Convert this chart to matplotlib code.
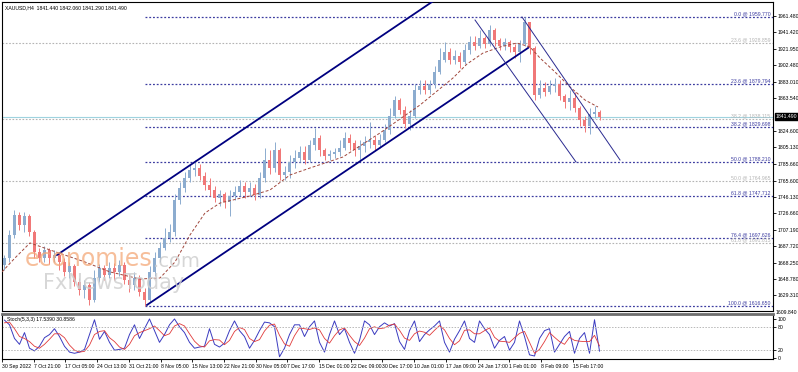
"""XAUUSD H4 chart with channels, fibonacci levels and stochastic"""

import matplotlib.pyplot as plt
from matplotlib.transforms import blended_transform_factory

# ---- price data (one candle per ~5 bars) ----
first_open = 1665.4
closes = [1673.7, 1701.0, 1724.7, 1712.8, 1723.5, 1704.5, 1680.8, 1673.7, 1683.2, 1673.7,
          1677.2, 1668.9, 1657.1, 1664.2, 1645.2, 1635.7, 1641.6, 1623.8, 1649.9, 1661.8,
          1653.5, 1661.8, 1657.1, 1665.4, 1647.6, 1641.6, 1649.9, 1633.3, 1623.8, 1657.1,
          1673.7, 1685.6, 1697.4, 1704.5, 1742.5, 1756.8, 1768.6, 1778.1, 1780.5, 1771.0,
          1760.3, 1754.4, 1744.9, 1749.6, 1740.1, 1747.3, 1752.0, 1759.1, 1752.0, 1756.8,
          1748.4, 1768.6, 1790.0, 1780.5, 1801.9, 1772.2, 1775.8, 1787.6, 1792.4, 1799.5,
          1790.0, 1807.8, 1816.1, 1801.9, 1794.8, 1797.1, 1799.5, 1804.3, 1816.1, 1810.2,
          1801.9, 1806.6, 1811.4, 1813.8, 1807.8, 1813.8, 1825.6, 1842.2, 1861.2, 1849.4,
          1832.7, 1842.2, 1873.1, 1877.9, 1873.1, 1880.2, 1894.5, 1908.7, 1918.2, 1908.7,
          1913.5, 1906.3, 1920.6, 1930.1, 1925.3, 1934.8, 1927.7, 1944.3, 1932.5, 1925.3,
          1930.1, 1924.2, 1918.2, 1927.7, 1953.8, 1923.0, 1867.2, 1875.5, 1870.7, 1877.9,
          1880.2, 1866.0, 1858.9, 1863.6, 1851.7, 1837.5, 1830.4, 1844.6, 1847.0, 1841.5]
highs = [1677.2, 1706.9, 1730.6, 1728.3, 1728.3, 1725.9, 1706.9, 1685.6, 1687.9, 1685.6,
         1683.2, 1680.8, 1673.7, 1668.9, 1666.6, 1649.9, 1647.6, 1645.2, 1659.4, 1666.6,
         1665.4, 1668.9, 1667.7, 1671.3, 1668.9, 1654.7, 1657.1, 1653.5, 1638.1, 1664.2,
         1680.8, 1692.7, 1709.3, 1714.0, 1749.6, 1763.9, 1775.8, 1785.3, 1790.0, 1785.3,
         1775.8, 1768.6, 1759.1, 1754.4, 1752.0, 1754.4, 1759.1, 1766.3, 1763.9, 1763.9,
         1761.5, 1775.8, 1804.3, 1801.9, 1811.4, 1804.3, 1782.9, 1796.0, 1801.9, 1806.6,
         1806.6, 1813.8, 1828.0, 1819.7, 1804.3, 1801.9, 1804.3, 1813.8, 1823.2, 1820.9,
         1813.8, 1813.8, 1818.5, 1835.1, 1818.5, 1820.9, 1832.7, 1851.7, 1866.0, 1863.6,
         1854.1, 1849.4, 1880.2, 1885.0, 1885.0, 1885.0, 1901.6, 1923.0, 1930.1, 1923.0,
         1920.6, 1918.2, 1927.7, 1937.2, 1937.2, 1944.3, 1937.2, 1950.3, 1946.7, 1934.8,
         1934.8, 1932.5, 1927.7, 1932.5, 1959.8, 1953.8, 1925.3, 1885.0, 1882.6, 1885.0,
         1887.4, 1885.0, 1868.4, 1873.1, 1870.7, 1854.1, 1842.2, 1851.7, 1854.1, 1849.4]
lows = [1659.4, 1668.9, 1697.4, 1706.9, 1704.5, 1699.8, 1673.7, 1668.9, 1668.9, 1666.6,
        1668.9, 1659.4, 1652.3, 1649.9, 1640.4, 1629.8, 1626.2, 1617.9, 1621.4, 1645.2,
        1647.6, 1649.9, 1647.6, 1652.3, 1642.8, 1633.3, 1635.7, 1628.6, 1616.7, 1621.4,
        1652.3, 1668.9, 1683.2, 1692.7, 1699.8, 1737.8, 1752.0, 1763.9, 1771.0, 1766.3,
        1754.4, 1747.3, 1740.1, 1735.4, 1733.0, 1723.5, 1742.5, 1747.3, 1744.9, 1747.3,
        1742.5, 1744.9, 1763.9, 1773.4, 1775.8, 1766.3, 1766.3, 1768.6, 1780.5, 1787.6,
        1785.3, 1787.6, 1801.9, 1794.8, 1790.0, 1790.0, 1792.4, 1794.8, 1801.9, 1801.9,
        1794.8, 1790.0, 1799.5, 1804.3, 1801.9, 1804.3, 1811.4, 1820.9, 1839.9, 1844.6,
        1828.0, 1825.6, 1839.9, 1868.4, 1868.4, 1868.4, 1875.5, 1892.1, 1906.3, 1904.0,
        1904.0, 1899.2, 1904.0, 1915.9, 1920.6, 1923.0, 1923.0, 1925.3, 1925.3, 1920.6,
        1920.6, 1918.2, 1911.1, 1906.3, 1925.3, 1915.9, 1861.2, 1863.6, 1866.0, 1868.4,
        1870.7, 1861.2, 1851.7, 1849.4, 1847.0, 1830.4, 1823.2, 1820.9, 1839.9, 1837.5]

# moving average (dashed brown)
ma_idx = [-0.5, 2.1, 5.1, 9.1, 16.1, 21.1, 27.1, 31.1, 34.1, 37.1, 40.1, 43.1, 49.1, 53.1,
          57.1, 61.1, 67.7, 75.1, 83.1, 89.7, 92.5, 95.7, 99.1, 102.5, 105.1, 107.1, 110.1,
          113.1, 116.1, 118.7]
ma_val = [1657.1, 1673.7, 1691.5, 1683.2, 1668.9, 1657.1, 1648.7, 1649.9, 1668.9, 1701.0,
          1727.1, 1738.9, 1747.3, 1754.4, 1772.2, 1780.5, 1793.6, 1822.1, 1855.3, 1887.4,
          1904.0, 1917.0, 1924.2, 1928.9, 1924.2, 1911.1, 1894.5, 1876.7, 1861.2, 1852.9]

# trend channels: (start idx, start price, end idx, end price)
up_channel = [(10.5, 1677.2, 87.1, 1984.1), (28.5, 1617.9, 104.7, 1923.0)]
down_channel = [(103.5, 1959.8, 123.1, 1790.0), (94.1, 1956.2, 114.3, 1787.6)]

# fibonacci levels
fib_start = 28.1
fib_pct = [0.0, 23.6, 38.2, 50.0, 61.8, 76.4, 100.0]
fib_price = [1959.770, 1879.794, 1829.698, 1788.210, 1747.712, 1697.626, 1616.650]
fib2_pct = [23.6, 38.2, 50.0, 61.8]
fib2_price = [1928.859, 1838.115, 1764.965, 1691.815]

last_price = 1841.490
price_ticks = [1961.480, 1941.420, 1921.950, 1902.480, 1883.010, 1863.540,
               1824.600, 1805.130, 1785.660, 1765.600, 1746.130, 1726.660, 1707.190,
               1687.720, 1668.250, 1648.780, 1629.310]

# stochastic (5,3,3)
stoch_main = [97, 85, 50, 35, 65, 25, 18, 30, 52, 60, 75, 55, 30, 15, 12, 15, 22, 60, 98, 48,
              68, 40, 20, 22, 25, 60, 85, 50, 75, 100, 70, 40, 60, 85, 100, 80, 65, 40, 25, 28,
              30, 75, 35, 28, 38, 70, 95, 70, 55, 25, 45, 70, 92, 90, 80, 3, 25, 60, 85, 85,
              55, 80, 95, 40, 15, 60, 95, 60, 75, 40, 12, 45, 95, 85, 60, 80, 90, 82, 88, 42,
              22, 70, 95, 42, 60, 72, 82, 95, 40, 15, 48, 70, 95, 50, 40, 95, 75, 60, 25, 45,
              55, 20, 40, 95, 55, 8, 5, 50, 70, 75, 15, 35, 55, 68, 12, 50, 65, 12, 98, 17.5]
stoch_signal = [90, 92, 75, 55, 50, 42, 30, 25, 35, 48, 62, 62, 52, 33, 20, 15, 17, 33, 60, 68,
                70, 52, 42, 28, 22, 35, 57, 65, 70, 75, 82, 70, 57, 62, 82, 88, 82, 62, 43, 31,
                28, 44, 47, 46, 34, 45, 68, 78, 73, 50, 42, 47, 69, 84, 87, 58, 36, 30, 57, 77,
                75, 73, 77, 72, 50, 38, 57, 72, 77, 58, 42, 32, 51, 75, 80, 75, 77, 84, 87, 71,
                51, 45, 62, 69, 66, 58, 71, 83, 72, 50, 34, 44, 71, 72, 62, 62, 70, 77, 53, 43,
                42, 40, 52, 63, 68, 40, 12, 22, 42, 65, 53, 42, 35, 53, 45, 43, 42, 42, 58, 30.86]

date_labels = ['30 Sep 2022', '7 Oct 21:00', '17 Oct 05:00', '24 Oct 13:00', '31 Oct 21:00',
               '8 Nov 05:00', '15 Nov 13:00', '22 Nov 21:00', '30 Nov 05:00', '7 Dec 17:00',
               '15 Dec 01:00', '22 Dec 09:00', '30 Dec 17:00', '10 Jan 01:00', '17 Jan 09:00',
               '24 Jan 17:00', '1 Feb 01:00', '8 Feb 09:00', '15 Feb 17:00']

plt.rcParams['font.family'] = ['Liberation Sans', 'DejaVu Sans']

UP = '#8caccf'
DOWN = '#f07878'
FIB_BLUE = '#3c3ca0'
FIB_GRAY = '#b4b4b4'
FS = 3.7

fig = plt.figure(figsize=(7.98, 3.72), dpi=100)
ax = fig.add_axes([0.0025, 0.164, 0.9662, 0.8306])
ax_s = fig.add_axes([0.0025, 0.035, 0.9662, 0.121])

XMAX = 153.7
ax.set_xlim(-0.5, XMAX)
ax.set_ylim(1610.7, 1977.6)

# candles
x = list(range(len(closes)))
opens = [first_open] + closes[:-1]
cols = [UP if c >= o else DOWN for o, c in zip(opens, closes)]
ax.vlines(x, lows, highs, colors=cols, lw=0.7, zorder=3)
ax.bar(x, [max(abs(c - o), 0.8) for o, c in zip(opens, closes)],
       bottom=[min(o, c) for o, c in zip(opens, closes)],
       width=0.45, color=cols, zorder=3)

# moving average
ax.plot(ma_idx, ma_val, color='#a0473c', lw=0.7, ls=(0, (3, 2)), zorder=4)

# channels
for x0, y0, x1, y1 in up_channel:
    ax.plot([x0, x1], [y0, y1], color='#000080', lw=1.3, zorder=5)
for x0, y0, x1, y1 in down_channel:
    ax.plot([x0, x1], [y0, y1], color='#2a2a90', lw=0.7, zorder=5)

# fibonacci
ax.hlines(fib2_price, -0.5, XMAX, colors=FIB_GRAY, lw=0.8, linestyles=(0, (1.5, 1.5)), zorder=2)
ax.hlines(fib_price, fib_start, XMAX, colors=FIB_BLUE, lw=0.9, linestyles=(0, (1.5, 1.5)), zorder=2)
for p, v in zip(fib2_pct, fib2_price):
    ax.text(153.2, v + 0.8, f'{p:.1f} @ {v:.3f}', color=FIB_GRAY, fontsize=FS,
            ha='right', va='bottom', zorder=6)
for p, v in zip(fib_pct, fib_price):
    ax.text(153.2, v + 0.8, f'{p:.1f} @ {v:.3f}', color=FIB_BLUE, fontsize=FS,
            ha='right', va='bottom', zorder=6)

# bid line
ax.axhline(last_price, color='#9fd3df', lw=0.8, zorder=2)

# watermark
wm = ax.text(0.03, 0.168, 'economies', transform=ax.transAxes, fontsize=17,
             color='#f4a878', alpha=0.75, va='center', zorder=6, family='DejaVu Sans')
ax.annotate('.com', xy=(1, 0), xycoords=wm, va='bottom', fontsize=14,
            color='#cccccc', alpha=0.8, zorder=6, family='DejaVu Sans')
ax.text(0.053, 0.092, 'FxNewsToday', transform=ax.transAxes, fontsize=15,
        color='#d0d0d0', alpha=0.85, va='center', zorder=6, family='DejaVu Sans')

ax.text(0.004, 0.988, 'XAUUSD,H4  1841.440 1842.060 1841.290 1841.490',
        transform=ax.transAxes, fontsize=FS, va='top', ha='left')

# axes styling
ax.yaxis.tick_right()
ax.set_yticks(price_ticks)
ax.set_yticklabels([f'{t:.3f}' for t in price_ticks])
ax.tick_params(axis='y', labelsize=FS, length=2, pad=1.2, width=0.6)
ax.set_xticks([])
for s in ax.spines.values():
    s.set_linewidth(0.8)
    s.set_color('black')

tr = blended_transform_factory(ax.transAxes, ax.transData)
ax.text(1.004, last_price, f'{last_price:.3f}', transform=tr, color='white',
        fontsize=FS, ha='left', va='center', zorder=10, clip_on=False,
        bbox=dict(facecolor='black', edgecolor='black', pad=0.6))
fig.text(776 / 798, 1 - 312 / 372, '1609.840', fontsize=FS, va='center', ha='left')

# stochastic panel
ax_s.set_xlim(-0.5, XMAX)
ax_s.set_ylim(-2.6, 112.8)
ax_s.plot(x, stoch_main, color='#3b3bc0', lw=0.7)
ax_s.plot(x, stoch_signal, color='#e03a3a', lw=0.6)
ax_s.hlines([20, 80], -0.5, XMAX, colors='#b8b8b8', lw=0.7, linestyles=(0, (1.5, 1.5)))
ax_s.text(0.006, 0.93, 'Stoch(5,3,3) 17.5390 30.8586', transform=ax_s.transAxes,
          fontsize=FS, va='top', ha='left')
ax_s.yaxis.tick_right()
ax_s.set_yticks([0, 20, 80, 100])
ax_s.tick_params(axis='y', labelsize=FS, length=2, pad=1.2, width=0.6)

date_pos = [(2 + 31.7 * k - 4.5) / 5 for k in range(len(date_labels))]
ax_s.set_xticks(date_pos)
ax_s.set_xticklabels(date_labels, ha='left')
ax_s.tick_params(axis='x', labelsize=FS, length=2, pad=1.5, width=0.6)
for s in ax_s.spines.values():
    s.set_linewidth(0.8)
    s.set_color('black')
ax_s.spines['top'].set_linewidth(2.0)
ax_s.spines['top'].set_color('#6e6e6e')

fig.savefig('out.png', dpi=100)
